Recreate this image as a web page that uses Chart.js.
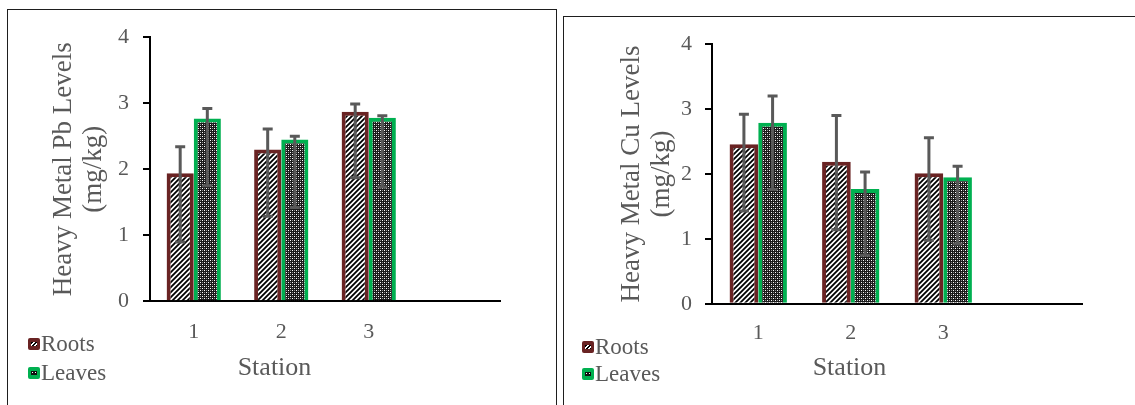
<!DOCTYPE html>
<html>
<head>
<meta charset="utf-8">
<script src="https://cdn.jsdelivr.net/npm/chart.js@4.4.1/dist/chart.umd.min.js"></script>
<style>
  html, body { margin: 0; padding: 0; background: #fff; width: 1135px; height: 405px; overflow: hidden; }
  .panel { position: absolute; border: 1px solid #1e1e1e; box-sizing: border-box; }
  #panelPb { left: 7px; top: 9px; width: 550px; height: 420px; }
  #panelCu { left: 563px; top: 16px; width: 600px; height: 420px; }
  canvas { position: absolute; }
  #chartPb { left: 8px; top: 10px; }
  #chartCu { left: 565px; top: 18px; }
  .legend { position: absolute; font-family: "Liberation Serif", "Times New Roman", serif; font-size: 23px; color: #595959; }
  .legend .row { display: flex; align-items: center; }
  .sw { width: 12px; height: 12px; border-radius: 2px; position: relative; margin-right: 1px; }
  .sw i { position: absolute; left: 3px; top: 4px; width: 6px; height: 4px; }
  #legendPb { left: 28px; top: 329px; }
  #legendPb .row { height: 29px; }
  #legendCu { left: 582px; top: 333px; }
  #legendCu .row { height: 27px; }
</style>
</head>
<body>
<div class="panel" id="panelPb"></div>
<div class="panel" id="panelCu"></div>
<canvas id="chartPb" width="547" height="395" style="width:547px;height:395px"></canvas>
<canvas id="chartCu" width="570" height="387" style="width:570px;height:387px"></canvas>
<div class="legend" id="legendPb"></div>
<div class="legend" id="legendCu"></div>
<script>
// categories (4th slot is empty in the original plot)
const stations = ['1', '2', '3', ''];
const seriesNames = ['Roots', 'Leaves'];
const yMax = 4;
const yStep = 1;

// Pb (mg/kg)
const pbRoots = [1.94, 2.30, 2.87];
const pbLeaves = [2.77, 2.45, 2.78];
const pbRootsHigh = [2.34, 2.61, 2.99];
const pbRootsLow = [0.90, 1.29, 1.87];
const pbLeavesHigh = [2.92, 2.50, 2.81];
const pbLeavesLow = [1.75, 1.42, 1.73];

// Cu (mg/kg)
const cuRoots = [2.46, 2.19, 2.01];
const cuLeaves = [2.79, 1.77, 1.95];
const cuRootsHigh = [2.92, 2.90, 2.56];
const cuRootsLow = [1.43, 1.14, 0.98];
const cuLeavesHigh = [3.20, 2.03, 2.12];
const cuLeavesLow = [1.76, 0.75, 0.92];

const rootColor = '#692323';
const leafColor = '#00b050';
const textColor = '#595959';
const serif = '"Liberation Serif", "Times New Roman", serif';

function hatchPattern() {
  const c = document.createElement('canvas');
  c.width = 5; c.height = 5;
  const g = c.getContext('2d');
  g.fillStyle = '#fff';
  g.fillRect(0, 0, 5, 5);
  g.strokeStyle = '#000';
  g.lineWidth = 1.8;
  g.beginPath();
  g.moveTo(-1, 6); g.lineTo(6, -1);
  g.moveTo(-1, 1); g.lineTo(1, -1);
  g.moveTo(4, 6); g.lineTo(6, 4);
  g.stroke();
  return g.createPattern(c, 'repeat');
}

function dotPattern() {
  const c = document.createElement('canvas');
  c.width = 4; c.height = 4;
  const g = c.getContext('2d');
  g.fillStyle = '#1a1a1a';
  g.fillRect(0, 0, 4, 4);
  g.fillStyle = '#fff';
  g.fillRect(0, 0, 1, 1);
  g.fillRect(2, 2, 1, 1);
  g.fillStyle = '#8a8a8a';
  g.fillRect(2, 0, 1, 1);
  g.fillRect(0, 2, 1, 1);
  return g.createPattern(c, 'repeat');
}

// error bars drawn from the y scale
const errorBars = {
  id: 'errorBars',
  afterDatasetsDraw(chart, args, opts) {
    const { ctx } = chart;
    const y = chart.scales.y;
    ctx.save();
    ctx.strokeStyle = '#595959';
    ctx.lineWidth = 3;
    chart.data.datasets.forEach((ds, di) => {
      const meta = chart.getDatasetMeta(di);
      const hi = opts.high[di], lo = opts.low[di];
      meta.data.forEach((bar, i) => {
        if (hi[i] == null) return;
        const yHi = y.getPixelForValue(hi[i]);
        const yLo = y.getPixelForValue(lo[i]);
        ctx.beginPath();
        ctx.moveTo(bar.x, yHi); ctx.lineTo(bar.x, yLo);
        ctx.moveTo(bar.x - 5, yHi); ctx.lineTo(bar.x + 5, yHi);
        ctx.moveTo(bar.x - 5, yLo); ctx.lineTo(bar.x + 5, yLo);
        ctx.stroke();
      });
    });
    ctx.restore();
  }
};

function makeChart(id, metal, roots, leaves, high, low, lay) {
  const ctx = document.getElementById(id).getContext('2d');
  return new Chart(ctx, {
    type: 'bar',
    data: {
      labels: stations,
      datasets: [{
        label: seriesNames[0],
        data: roots,
        backgroundColor: hatchPattern(),
        borderColor: rootColor,
        borderWidth: 4
      }, {
        label: seriesNames[1],
        data: leaves,
        backgroundColor: dotPattern(),
        borderColor: leafColor,
        borderWidth: 4
      }]
    },
    plugins: [errorBars],
    options: {
      responsive: false,
      animation: false,
      events: [],
      layout: { padding: lay.padding },
      datasets: { bar: { categoryPercentage: 0.62, barPercentage: 1.0 } },
      plugins: {
        legend: { display: false },
        tooltip: { enabled: false },
        title: {
          display: true,
          position: 'bottom',
          text: 'Station',
          color: textColor,
          padding: 0,
          font: { family: serif, size: 26, weight: 'normal', lineHeight: 1.2 }
        },
        errorBars: { high: high, low: low }
      },
      scales: {
        x: {
          grid: { display: false, drawTicks: false },
          border: { display: true, color: '#000', width: 2 },
          ticks: { color: textColor, padding: lay.xPad, font: { family: serif, size: 22, lineHeight: 1.2 } },
          afterFit(s) { s.height = lay.xHeight; }
        },
        y: {
          min: 0,
          max: yMax,
          grid: { display: true, drawOnChartArea: false, drawTicks: true, tickLength: 7, color: '#000', lineWidth: 2 },
          border: { display: true, color: '#000', width: 2 },
          ticks: { stepSize: yStep, color: textColor, padding: lay.yPad, font: { family: serif, size: 22 } },
          title: {
            display: true,
            text: ['Heavy Metal ' + metal + ' Levels', '(mg/kg)'],
            color: textColor,
            padding: 0,
            font: { family: serif, size: 27, weight: 'normal', lineHeight: 1.11 }
          },
          afterFit(s) { s.width = lay.yWidth; }
        }
      }
    }
  });
}

makeChart('chartPb', 'Pb', pbRoots, pbLeaves, [pbRootsHigh, pbLeavesHigh], [pbRootsLow, pbLeavesLow], {
  padding: { left: 41, right: 55, top: 25, bottom: 21 },
  xHeight: 51.5, xPad: 18, yWidth: 101, yPad: 14
});
makeChart('chartCu', 'Cu', cuRoots, cuLeaves, [cuRootsHigh, cuLeavesHigh], [cuRootsLow, cuLeavesLow], {
  padding: { left: 52, right: 53, top: 25, bottom: 21 },
  xHeight: 49, xPad: 16, yWidth: 95, yPad: 13
});

// legends
function buildLegend(id) {
  const box = document.getElementById(id);
  const inner = [
    'background:#fff repeating-linear-gradient(135deg,#000 0 1.5px,#fff 1.5px 3px)',
    'background:#111 radial-gradient(circle,#fff 0.8px,transparent 1px) 0 0/3px 3px'
  ];
  const colors = [rootColor, leafColor];
  seriesNames.forEach((name, i) => {
    const row = document.createElement('div');
    row.className = 'row';
    row.innerHTML = '<span class="sw" style="background:' + colors[i] + '"><i style="' + inner[i] + '"></i></span><span>' + name + '</span>';
    box.appendChild(row);
  });
}
buildLegend('legendPb');
buildLegend('legendCu');
</script>
</body>
</html>
